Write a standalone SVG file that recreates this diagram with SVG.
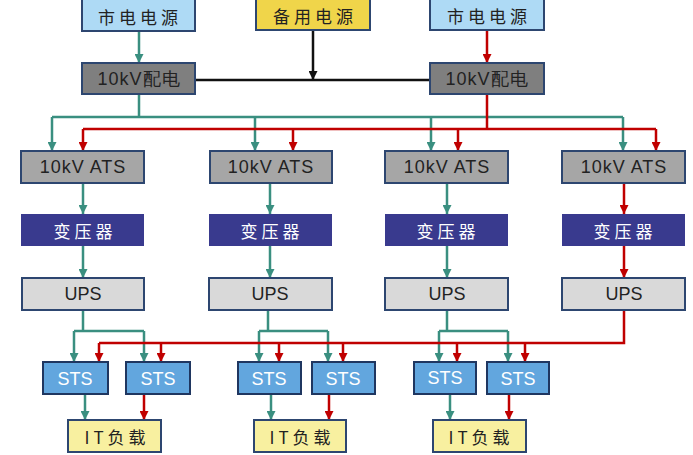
<svg xmlns="http://www.w3.org/2000/svg" width="693" height="455" viewBox="0 0 693 455">
  <style>
    .box { stroke: #2d4670; stroke-width: 2; }
    .grid { fill: #aedaf5; }
    .spare { fill: #f0d54a; }
    .dist { fill: #7f7f7f; }
    .ats { fill: #a6a6a6; }
    .xfmr { fill: #393a8e; }
    .ups { fill: #d9d9d9; }
    .sts { fill: #62a6de; stroke: #1f3660; }
    .load { fill: #f8f0a0; }
    .cn { font-family: "Noto Sans CJK SC", "Noto Sans", sans-serif; font-size: 17px; text-anchor: middle; dominant-baseline: central; letter-spacing: 4px; fill: #222; }
    .en { font-family: "Liberation Sans", "Noto Sans", sans-serif; font-size: 18px; text-anchor: middle; dominant-baseline: central; fill: #222; }
    .white { fill: #ffffff; }
    .g { fill: none; stroke: #3a8f80; stroke-width: 2.5; }
    .r { fill: none; stroke: #c00000; stroke-width: 2.5; }
    .k { fill: none; stroke: #111111; stroke-width: 2.5; }
  </style>
  <defs>
    <marker id="ag" viewBox="0 0 10 10" refX="10" refY="5" markerWidth="9" markerHeight="9" orient="auto" markerUnits="userSpaceOnUse">
      <path d="M0,0 L10,5 L0,10 z" fill="#3a8f80"/>
    </marker>
    <marker id="ar" viewBox="0 0 10 10" refX="10" refY="5" markerWidth="9" markerHeight="9" orient="auto" markerUnits="userSpaceOnUse">
      <path d="M0,0 L10,5 L0,10 z" fill="#c00000"/>
    </marker>
    <marker id="ak" viewBox="0 0 10 10" refX="10" refY="5" markerWidth="9" markerHeight="9" orient="auto" markerUnits="userSpaceOnUse">
      <path d="M0,0 L10,5 L0,10 z" fill="#111111"/>
    </marker>
  </defs>

  <!-- connectors -->
  <g id="connectors">
    <!-- green feed -->
    <path class="g" d="M139,31 V63" marker-end="url(#ag)"/>
    <path class="g" d="M139,94 V117 M52,117 H623"/>
    <path class="g" d="M52,117 V151" marker-end="url(#ag)"/>
    <path class="g" d="M255,117 V151" marker-end="url(#ag)"/>
    <path class="g" d="M431,117 V151" marker-end="url(#ag)"/>
    <path class="g" d="M623,117 V151" marker-end="url(#ag)"/>
    <path class="g" d="M83,183 V214" marker-end="url(#ag)"/>
    <path class="g" d="M270,183 V214" marker-end="url(#ag)"/>
    <path class="g" d="M447,183 V214" marker-end="url(#ag)"/>
    <path class="g" d="M83,246 V278" marker-end="url(#ag)"/>
    <path class="g" d="M270,246 V278" marker-end="url(#ag)"/>
    <path class="g" d="M447,246 V278" marker-end="url(#ag)"/>
    <path class="g" d="M83,310 V331 M74,331 H144 M268,310 V331 M259,331 H328 M447,310 V331 M439,331 H508"/>
    <path class="g" d="M74,331 V362" marker-end="url(#ag)"/>
    <path class="g" d="M144,331 V362" marker-end="url(#ag)"/>
    <path class="g" d="M259,331 V362" marker-end="url(#ag)"/>
    <path class="g" d="M328,331 V362" marker-end="url(#ag)"/>
    <path class="g" d="M439,331 V362" marker-end="url(#ag)"/>
    <path class="g" d="M508,331 V362" marker-end="url(#ag)"/>
    <path class="g" d="M85,394 V420" marker-end="url(#ag)"/>
    <path class="g" d="M271,394 V420" marker-end="url(#ag)"/>
    <path class="g" d="M450,394 V420" marker-end="url(#ag)"/>

    <!-- red feed -->
    <path class="r" d="M487,31 V63" marker-end="url(#ar)"/>
    <path class="r" d="M487,94 V129 M83,129 H656"/>
    <path class="r" d="M83,129 V151" marker-end="url(#ar)"/>
    <path class="r" d="M293,129 V151" marker-end="url(#ar)"/>
    <path class="r" d="M458,129 V151" marker-end="url(#ar)"/>
    <path class="r" d="M656,129 V151" marker-end="url(#ar)"/>
    <path class="r" d="M624,183 V214" marker-end="url(#ar)"/>
    <path class="r" d="M624,246 V278" marker-end="url(#ar)"/>
    <path class="r" d="M624,310 V343 H99"/>
    <path class="r" d="M99,343 V362" marker-end="url(#ar)"/>
    <path class="r" d="M161,343 V362" marker-end="url(#ar)"/>
    <path class="r" d="M279,343 V362" marker-end="url(#ar)"/>
    <path class="r" d="M343,343 V362" marker-end="url(#ar)"/>
    <path class="r" d="M457,343 V362" marker-end="url(#ar)"/>
    <path class="r" d="M525,343 V362" marker-end="url(#ar)"/>
    <path class="r" d="M144,394 V420" marker-end="url(#ar)"/>
    <path class="r" d="M329,394 V420" marker-end="url(#ar)"/>
    <path class="r" d="M509,394 V420" marker-end="url(#ar)"/>

    <!-- backup feed -->
    <path class="k" d="M195,80 H430"/>
    <path class="k" d="M313,30 V80" marker-end="url(#ak)"/>
  </g>

  <!-- sources -->
  <g id="grid-a"><rect class="box grid" x="82" y="-1" width="113" height="32"/><text class="cn" x="140" y="16">市电电源</text></g>
  <g id="backup"><rect class="box spare" x="256" y="-1" width="114" height="31"/><text class="cn" x="315" y="15">备用电源</text></g>
  <g id="grid-b"><rect class="box grid" x="430" y="-1" width="114" height="31"/><text class="cn" x="489" y="15">市电电源</text></g>

  <!-- 10kV distribution -->
  <g id="dist-a"><rect class="box dist" x="82" y="63" width="113" height="31"/><text class="en" x="139" y="79" letter-spacing="1">10kV配电</text></g>
  <g id="dist-b"><rect class="box dist" x="430" y="63" width="114" height="31"/><text class="en" x="487" y="79" letter-spacing="1">10kV配电</text></g>

  <!-- ATS -->
  <g id="ats-1"><rect class="box ats" x="21" y="151" width="123" height="32" stroke="#333"/><text class="en" x="83" y="167" letter-spacing="1">10kV ATS</text></g>
  <g id="ats-2"><rect class="box ats" x="210" y="151" width="122" height="32"/><text class="en" x="271" y="167" letter-spacing="1">10kV ATS</text></g>
  <g id="ats-3"><rect class="box ats" x="385" y="151" width="123" height="32"/><text class="en" x="447" y="167" letter-spacing="1">10kV ATS</text></g>
  <g id="ats-4"><rect class="box ats" x="562" y="151" width="123" height="32"/><text class="en" x="624" y="167" letter-spacing="1">10kV ATS</text></g>

  <!-- transformers -->
  <g id="xfmr-1"><rect class="xfmr" x="21" y="214" width="123" height="32"/><text class="cn white" x="85" y="230">变压器</text></g>
  <g id="xfmr-2"><rect class="xfmr" x="209" y="214" width="123" height="32"/><text class="cn white" x="272" y="230">变压器</text></g>
  <g id="xfmr-3"><rect class="xfmr" x="385" y="214" width="123" height="32"/><text class="cn white" x="448" y="230">变压器</text></g>
  <g id="xfmr-4"><rect class="xfmr" x="562" y="214" width="123" height="32"/><text class="cn white" x="625" y="230">变压器</text></g>

  <!-- UPS -->
  <g id="ups-1"><rect class="box ups" x="22" y="278" width="122" height="32"/><text class="en" x="83" y="294">UPS</text></g>
  <g id="ups-2"><rect class="box ups" x="209" y="278" width="123" height="32"/><text class="en" x="270" y="294">UPS</text></g>
  <g id="ups-3"><rect class="box ups" x="385" y="278" width="123" height="32"/><text class="en" x="447" y="294">UPS</text></g>
  <g id="ups-4"><rect class="box ups" x="562" y="278" width="123" height="32"/><text class="en" x="624" y="294">UPS</text></g>

  <!-- STS -->
  <g id="sts-1"><rect class="box sts" x="43" y="362" width="65" height="32"/><text class="en white" x="75" y="379" font-size="16">STS</text></g>
  <g id="sts-2"><rect class="box sts" x="126" y="362" width="64" height="32"/><text class="en white" x="158" y="379" font-size="16">STS</text></g>
  <g id="sts-3"><rect class="box sts" x="238" y="362" width="63" height="32"/><text class="en white" x="269" y="379" font-size="16">STS</text></g>
  <g id="sts-4"><rect class="box sts" x="312" y="362" width="63" height="32"/><text class="en white" x="343" y="379" font-size="16">STS</text></g>
  <g id="sts-5"><rect class="box sts" x="414" y="362" width="62" height="32"/><text class="en white" x="445" y="378" font-size="16">STS</text></g>
  <g id="sts-6"><rect class="box sts" x="487" y="362" width="62" height="32"/><text class="en white" x="518" y="379" font-size="16">STS</text></g>

  <!-- IT loads -->
  <g id="load-1"><rect class="box load" x="68" y="420" width="93" height="32"/><text class="cn" x="117" y="436" letter-spacing="3">IT负载</text></g>
  <g id="load-2"><rect class="box load" x="254" y="420" width="92" height="32"/><text class="cn" x="302" y="436" letter-spacing="3">IT负载</text></g>
  <g id="load-3"><rect class="box load" x="433" y="420" width="93" height="32"/><text class="cn" x="481" y="436" letter-spacing="3">IT负载</text></g>
</svg>
